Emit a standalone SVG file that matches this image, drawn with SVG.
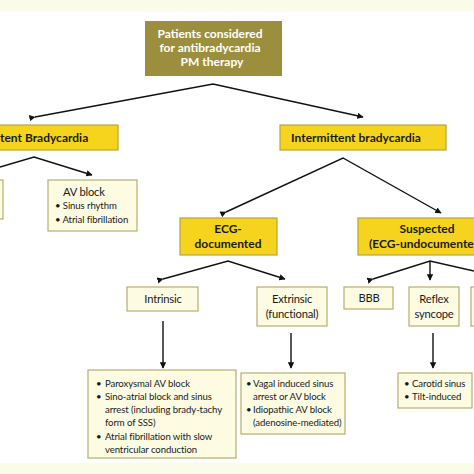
<svg xmlns="http://www.w3.org/2000/svg" width="474" height="474" viewBox="0 0 474 474">
<style>
text{font-family:Lato,"Liberation Sans",sans-serif;fill:#1a1a1a}
.b{font-weight:bold}
.w{fill:#ffffff;font-weight:bold;font-size:12px}
.y{fill:#f6d41e;stroke:#b8a43a;stroke-width:1.2}
.c{fill:#fdfce2;stroke:#b5ae6e;stroke-width:1.2}
.ln{stroke:#111;stroke-width:1.4;fill:none}
.h{font-size:12px}
.n{font-size:11.2px;letter-spacing:-0.2px}
.s{font-size:9.6px;letter-spacing:-0.1px}
.m{text-anchor:middle}
</style>
<defs>
<marker id="a" viewBox="0 0 10 10" refX="9" refY="5" markerWidth="4.5" markerHeight="4.5" orient="auto"><path d="M0,0 L10,5 L0,10 z" fill="#111"/></marker>
</defs>
<rect x="0" y="0" width="474" height="474" fill="#ffffff"/>
<rect x="0" y="0" width="474" height="12" fill="#fbfbea"/>
<rect x="0" y="463" width="474" height="11" fill="#fbfbea"/>
<g id="connectors">
<polyline class="ln" points="35,117 213,84 363,117" marker-start="url(#a)" marker-end="url(#a)"/>
<polyline class="ln" points="0,167 34,157 92,175" marker-end="url(#a)"/>
<polyline class="ln" points="226,212 343,158 441,213" marker-start="url(#a)" marker-end="url(#a)"/>
<polyline class="ln" points="163,279 228,261 285,279" marker-start="url(#a)" marker-end="url(#a)"/>
<polyline class="ln" points="373,279 430,261 474,271" marker-start="url(#a)"/>
<line class="ln" x1="430" y1="261" x2="430" y2="280" marker-end="url(#a)"/>
<line class="ln" x1="163" y1="321" x2="163" y2="368" marker-end="url(#a)"/>
<line class="ln" x1="291" y1="333" x2="291" y2="368" marker-end="url(#a)"/>
<line class="ln" x1="433" y1="333" x2="433" y2="368" marker-end="url(#a)"/>
</g>
<g id="root">
<rect x="145" y="21" width="137" height="55" fill="#9b8f3d"/>
<text class="w m" x="210" y="38">Patients considered</text>
<text class="w m" x="210" y="52">for antibradycardia</text>
<text class="w m" x="212" y="66">PM therapy</text>
</g>
<g id="persistent">
<rect class="y" x="-2" y="125" width="120" height="25"/>
<text class="b h" x="0" y="142">tent Bradycardia</text>
</g>
<g id="intermittent">
<rect class="y" x="280" y="125" width="166" height="25"/>
<text class="b h m" x="356" y="142">Intermittent bradycardia</text>
</g>
<g id="left-partial">
<rect class="c" x="-4" y="180" width="7" height="39"/>
</g>
<g id="avblock">
<rect class="c" x="48" y="180" width="89" height="51"/>
<text class="n" x="63" y="196">AV block</text>
<text class="s" x="55" y="209">• Sinus rhythm</text>
<text class="s" x="55" y="223">• Atrial fibrillation</text>
</g>
<g id="ecgdoc">
<rect class="y" x="180" y="218" width="97" height="37"/>
<text class="b h m" x="228" y="233">ECG-</text>
<text class="b h m" x="228" y="248">documented</text>
</g>
<g id="suspected">
<rect class="y" x="358" y="218" width="120" height="37"/>
<text class="b h m" x="427" y="233">Suspected</text>
<text class="b h" x="369" y="248">(ECG-undocumented)</text>
</g>
<g id="intrinsic">
<rect class="c" x="127" y="287" width="71" height="24"/>
<text class="n m" x="163" y="303">Intrinsic</text>
</g>
<g id="extrinsic">
<rect class="c" x="257" y="287" width="70" height="39"/>
<text class="n m" x="292" y="303">Extrinsic</text>
<text class="n m" x="292" y="318">(functional)</text>
</g>
<g id="bbb">
<rect class="c" x="344" y="287" width="49" height="22"/>
<text class="n m" x="369" y="302">BBB</text>
</g>
<g id="reflex">
<rect class="c" x="409" y="287" width="50" height="39"/>
<text class="n m" x="434" y="303">Reflex</text>
<text class="n m" x="434" y="318">syncope</text>
</g>
<g id="right-partial">
<rect class="c" x="471" y="287" width="8" height="39"/>
</g>
<g id="intrinsic-list">
<rect class="c" x="88" y="370" width="148" height="88"/>
<text class="s" x="96" y="387">•</text><text class="s" x="105" y="387">Paroxysmal AV block</text>
<text class="s" x="96" y="400">•</text><text class="s" x="105" y="400">Sino-atrial block and sinus</text>
<text class="s" x="105" y="413">arrest (including brady-tachy</text>
<text class="s" x="105" y="426">form of SSS)</text>
<text class="s" x="96" y="440">•</text><text class="s" x="105" y="440">Atrial fibrillation with slow</text>
<text class="s" x="105" y="453">ventricular conduction</text>
</g>
<g id="extrinsic-list">
<rect class="c" x="241" y="373" width="104" height="61"/>
<text class="s" x="246" y="387">•</text><text class="s" x="253" y="387">Vagal induced sinus</text>
<text class="s" x="253" y="400">arrest or AV block</text>
<text class="s" x="246" y="413">•</text><text class="s" x="253" y="413">Idiopathic AV block</text>
<text class="s" x="253" y="426">(adenosine-mediated)</text>
</g>
<g id="reflex-list">
<rect class="c" x="398" y="373" width="74" height="35"/>
<text class="s" x="404" y="387">•</text><text class="s" x="412" y="387">Carotid sinus</text>
<text class="s" x="404" y="400">•</text><text class="s" x="412" y="400">Tilt-induced</text>
</g>
</svg>
